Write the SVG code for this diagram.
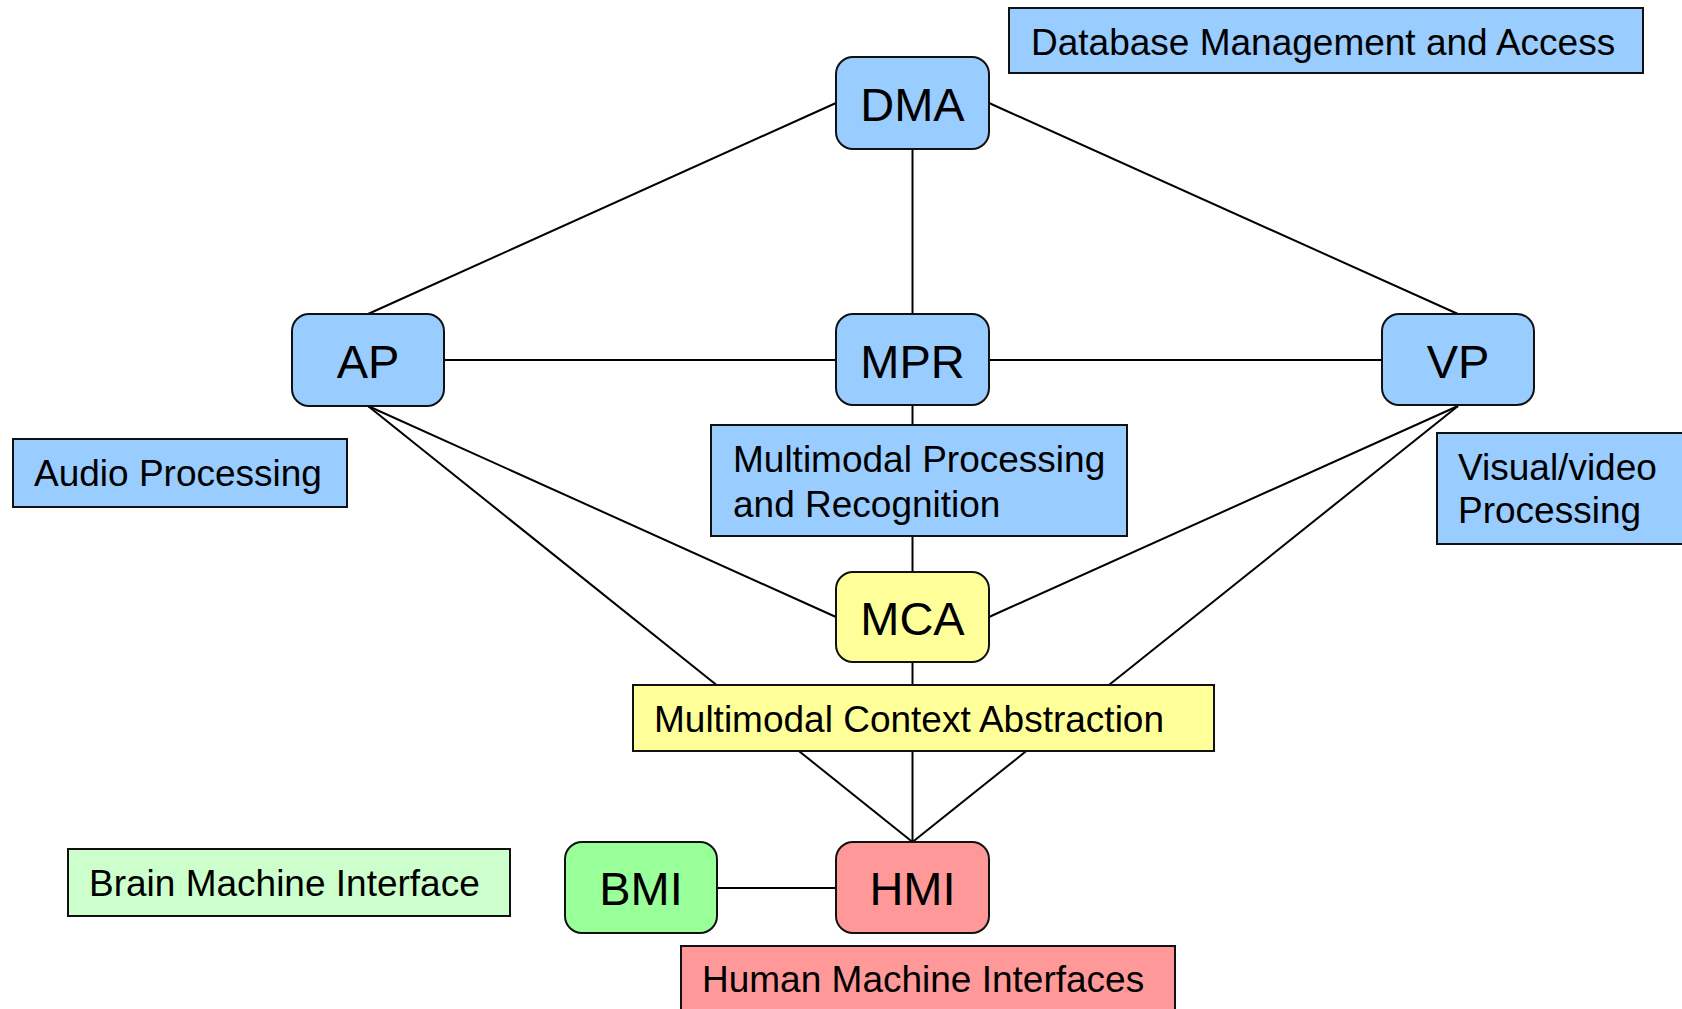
<svg xmlns="http://www.w3.org/2000/svg" width="1682" height="1009" viewBox="0 0 1682 1009">
<style>
.edge{stroke:#000;stroke-width:2;fill:none}
.node{stroke:#111;stroke-width:2}
.lbl{stroke:#111;stroke-width:2}
.blue{fill:#99CCFF}
.yellow{fill:#FFFF99}
.green{fill:#99FF99}
.lgreen{fill:#CCFFCC}
.pink{fill:#FF9999}
.nt{font-family:"Liberation Sans",Arial,sans-serif;font-size:47px;fill:#000;text-anchor:middle}
.lt{font-family:"Liberation Sans",Arial,sans-serif;font-size:37px;fill:#000}
</style>
<rect width="1682" height="1009" fill="#fff"/>
<g id="connectors">
<line class="edge" x1="836" y1="103" x2="368" y2="314"/>
<line class="edge" x1="989" y1="103" x2="1458" y2="314"/>
<line class="edge" x1="912.5" y1="149" x2="912.5" y2="314"/>
<line class="edge" x1="444" y1="360" x2="836" y2="360"/>
<line class="edge" x1="989" y1="360" x2="1382" y2="360"/>
<line class="edge" x1="368" y1="406" x2="836" y2="617"/>
<line class="edge" x1="1458" y1="406" x2="989" y2="617"/>
<line class="edge" x1="912.5" y1="405" x2="912.5" y2="572"/>
<line class="edge" x1="368" y1="406" x2="912.5" y2="842"/>
<line class="edge" x1="1458" y1="406" x2="912.5" y2="842"/>
<line class="edge" x1="912.5" y1="662" x2="912.5" y2="842"/>
<line class="edge" x1="717" y1="888" x2="836" y2="888"/>
</g>
<g id="DMA">
<rect class="node blue" x="836" y="57" width="153" height="92" rx="17"/>
<text class="nt" x="912.5" y="120.5">DMA</text>
</g>
<g id="AP">
<rect class="node blue" x="292" y="314" width="152" height="92" rx="17"/>
<text class="nt" x="368" y="377.5">AP</text>
</g>
<g id="MPR">
<rect class="node blue" x="836" y="314" width="153" height="91" rx="17"/>
<text class="nt" x="912.5" y="377.5">MPR</text>
</g>
<g id="VP">
<rect class="node blue" x="1382" y="314" width="152" height="91" rx="17"/>
<text class="nt" x="1458" y="377.5">VP</text>
</g>
<g id="MCA">
<rect class="node yellow" x="836" y="572" width="153" height="90" rx="17"/>
<text class="nt" x="912.5" y="634.5">MCA</text>
</g>
<g id="BMI">
<rect class="node green" x="565" y="842" width="152" height="91" rx="17"/>
<text class="nt" x="641" y="905">BMI</text>
</g>
<g id="HMI">
<rect class="node pink" x="836" y="842" width="153" height="91" rx="17"/>
<text class="nt" x="912.5" y="905">HMI</text>
</g>
<g id="label-DMA">
<rect class="lbl blue" x="1009" y="8" width="634" height="65"/>
<text class="lt" x="1031" y="55">Database Management and Access</text>
</g>
<g id="label-AP">
<rect class="lbl blue" x="13" y="439" width="334" height="68"/>
<text class="lt" x="34" y="486">Audio Processing</text>
</g>
<g id="label-MPR">
<rect class="lbl blue" x="711" y="425" width="416" height="111"/>
<text class="lt" x="733" y="472">Multimodal Processing</text>
<text class="lt" x="733" y="517">and Recognition</text>
</g>
<g id="label-VP">
<rect class="lbl blue" x="1437" y="433" width="260" height="111"/>
<text class="lt" x="1458" y="480">Visual/video</text>
<text class="lt" x="1458" y="523">Processing</text>
</g>
<g id="label-MCA">
<rect class="lbl yellow" x="633" y="685" width="581" height="66"/>
<text class="lt" x="654" y="732">Multimodal Context Abstraction</text>
</g>
<g id="label-BMI">
<rect class="lbl lgreen" x="68" y="849" width="442" height="67"/>
<text class="lt" x="89" y="896">Brain Machine Interface</text>
</g>
<g id="label-HMI">
<rect class="lbl pink" x="681" y="946" width="494" height="80"/>
<text class="lt" x="702" y="992">Human Machine Interfaces</text>
</g>
</svg>
